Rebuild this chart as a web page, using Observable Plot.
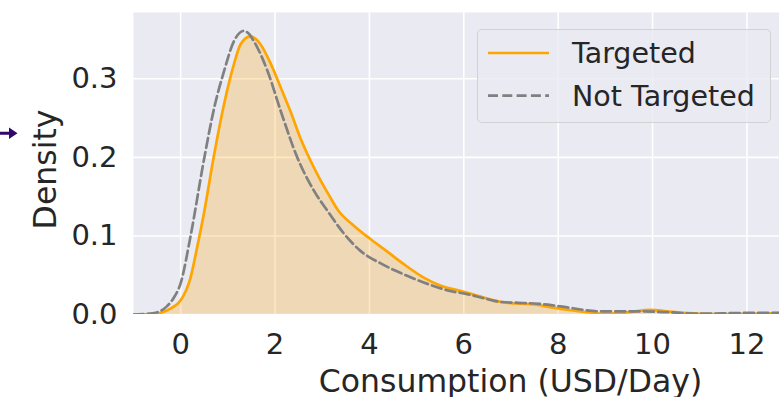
<!DOCTYPE html>
<html><head><meta charset="utf-8">
<script src="https://cdn.jsdelivr.net/npm/d3@7"></script>
<script src="https://cdn.jsdelivr.net/npm/@observablehq/plot@0.6"></script>
<style>
html,body{margin:0;padding:0;background:#fff;}
#wrap{position:relative;width:779px;height:397px;overflow:hidden;font-family:"DejaVu Sans",sans-serif;}
#chart{position:absolute;left:0;top:0;width:779px;height:397px;}
#legend{position:absolute;left:477px;top:29px;width:294px;height:94px;box-sizing:border-box;background:rgba(234,234,242,0.8);border:1px solid rgba(204,204,204,0.8);border-radius:5px;}
#legend svg{position:absolute;left:-1px;top:-1px;overflow:visible;}
#arrow{position:absolute;left:0;top:124px;}
</style>
</head><body>
<div id="wrap">
  <div id="chart"></div>
  <svg id="arrow" width="20" height="20"><path d="M0,7.8 H9 V3.5 L17.5,9.3 L9,15.1 V10.8 H0 Z" fill="#30086b"/></svg>
  <div id="legend"></div>
</div>
<script>
// Data (x = consumption USD/day, y = density)
const targetedX = [-1.0,-0.8,-0.6,-0.4,-0.2,0.0,0.2,0.35,0.49,0.71,0.92,1.13,1.27,1.48,1.69,1.91,2.12,2.33,2.54,2.75,2.97,3.18,3.32,3.67,4.0,4.38,4.73,5.15,5.5,6.0,6.4,6.78,7.1,7.49,7.85,8.19,8.6,9.04,9.5,9.96,10.3,10.66,11.5,12.2,12.75];
const targetedY = [0.0,0.0002,0.0008,0.0025,0.008,0.018,0.045,0.086,0.128,0.204,0.268,0.319,0.344,0.354,0.344,0.319,0.289,0.258,0.224,0.196,0.170,0.148,0.134,0.113,0.097,0.080,0.064,0.047,0.037,0.029,0.022,0.016,0.014,0.013,0.009,0.006,0.003,0.001,0.003,0.006,0.004,0.002,0.0005,0.001,0.002];
const notTargetedX = [-1.0,-0.8,-0.6,-0.49,-0.3,-0.14,0.0,0.21,0.49,0.71,0.92,1.13,1.34,1.45,1.55,1.84,2.12,2.47,2.82,3.11,3.46,3.81,4.24,4.73,5.23,5.7,6.07,6.4,6.78,7.1,7.49,7.85,8.19,8.9,9.6,10.3,11.0,12.0,12.75];
const notTargetedY = [0.0,0.0005,0.0015,0.003,0.010,0.022,0.040,0.100,0.196,0.263,0.310,0.348,0.361,0.357,0.348,0.310,0.259,0.200,0.158,0.132,0.103,0.081,0.065,0.051,0.039,0.030,0.026,0.021,0.016,0.015,0.014,0.012,0.009,0.004,0.004,0.003,0.001,0.002,0.002];
const xTicks = [0,2,4,6,8,10,12];
const yTicks = [0.0,0.1,0.2,0.3];
const seriesNames = ["Targeted","Not Targeted"];
const seriesColors = ["#FFA500","#808080"];

const targeted = targetedX.map((x,i)=>({x, y: targetedY[i]}));
const notTargeted = notTargetedX.map((x,i)=>({x, y: notTargetedY[i]}));

const plot = Plot.plot({
  width: 779, height: 397,
  marginLeft: 133, marginRight: 0, marginTop: 12, marginBottom: 83,
  style: {fontFamily: "DejaVu Sans", fontSize: "29px", color: "#262626", background: "transparent"},
  x: {domain: [-1, 12.69], label: null},
  y: {domain: [0, 0.3844], label: null},
  marks: [
    Plot.frame({fill: "#EAEAF2", stroke: null}),
    Plot.gridX(xTicks, {stroke: "white", strokeOpacity: 1, strokeWidth: 1.6}),
    Plot.gridY(yTicks, {stroke: "white", strokeOpacity: 1, strokeWidth: 1.6}),
    Plot.areaY(targeted, {x: "x", y: "y", fill: seriesColors[0], fillOpacity: 0.25, curve: "monotone-x", clip: true}),
    Plot.line(targeted, {x: "x", y: "y", stroke: seriesColors[0], strokeWidth: 2.7, curve: "monotone-x", clip: true}),
    Plot.line(notTargeted, {x: "x", y: "y", stroke: seriesColors[1], strokeWidth: 2.7, strokeDasharray: "10,4.3", curve: "monotone-x", clip: true}),
    Plot.axisX({ticks: xTicks, tickSize: 0, tickPadding: 19, label: null}),
    Plot.axisY({ticks: yTicks, tickSize: 0, tickPadding: 16, tickFormat: d => d.toFixed(1), label: null}),
    Plot.text(["Consumption (USD/Day)"], {frameAnchor: "bottom", textAnchor: "middle", lineAnchor: "middle", dx: 54, dy: 67, fontSize: 31.5}),
    Plot.text(["Density"], {frameAnchor: "left", textAnchor: "middle", lineAnchor: "middle", rotate: -90, dx: -88, dy: 6, fontSize: 31.5})
  ]
});
document.getElementById("chart").appendChild(plot);

// Legend
const lg = d3.select("#legend").append("svg").attr("width", 294).attr("height", 94);
const rows = [{y: 24}, {y: 66.7}];
seriesNames.forEach((name, i) => {
  lg.append("line").attr("x1", 11).attr("x2", 72).attr("y1", rows[i].y).attr("y2", rows[i].y)
    .attr("stroke", seriesColors[i]).attr("stroke-width", 2.7)
    .attr("stroke-dasharray", i === 1 ? "10,4.3" : null);
  lg.append("text").attr("x", 95).attr("y", rows[i].y + 10.4)
    .attr("font-family", "DejaVu Sans").attr("font-size", 28.5).attr("fill", "#262626").text(name);
});
</script>
</body></html>
